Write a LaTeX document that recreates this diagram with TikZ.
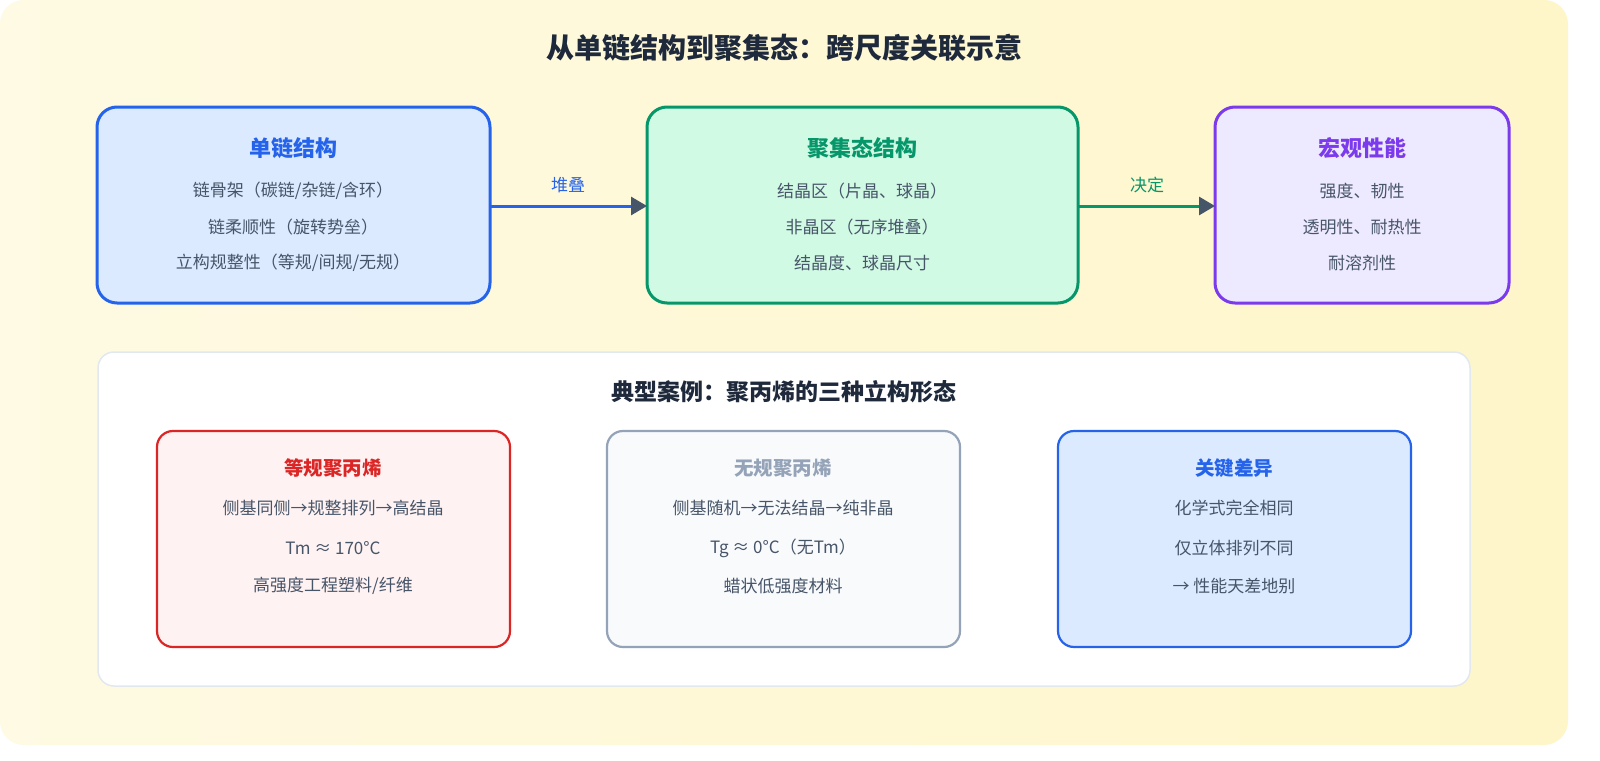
\documentclass[tikz,border=0pt]{standalone}
\usepackage{fontspec}
\setmainfont{Noto Sans CJK SC}
\usetikzlibrary{arrows.meta}
\definecolor{bgA}{HTML}{FEFAE3}
\definecolor{bgB}{HTML}{FEF6C8}
\definecolor{txt}{HTML}{475569}
\definecolor{ttl}{HTML}{1E293B}
\definecolor{blueB}{HTML}{2563EB}\definecolor{blueF}{HTML}{DBEAFE}
\definecolor{greenB}{HTML}{059669}\definecolor{greenF}{HTML}{D1FAE5}
\definecolor{purB}{HTML}{7C3AED}\definecolor{purF}{HTML}{EDE9FE}
\definecolor{redB}{HTML}{DC2626}\definecolor{redF}{HTML}{FEF2F2}
\definecolor{grayB}{HTML}{94A3B8}\definecolor{grayF}{HTML}{F8FAFC}
\definecolor{panB}{HTML}{E2E8F0}
\definecolor{arr}{HTML}{475569}
\tikzset{
 box/.style={draw, line width=3pt, rounded corners=20pt},
 sbox/.style={draw, line width=2.2pt, rounded corners=16pt},
 t/.style={font=\fontsize{17}{20}\selectfont, text=txt, anchor=center},
 h/.style={font=\fontsize{22}{26}\selectfont\bfseries, anchor=center},
 sh/.style={font=\fontsize{19.5}{23}\selectfont\bfseries, anchor=center},
 con/.style={line width=3pt, -{Triangle[length=16pt,width=18pt,color=arr]}},
}
\begin{document}
\begin{tikzpicture}[x=1pt,y=-1pt]
\useasboundingbox (0,0) rectangle (1600,760);
\fill[white] (0,0) rectangle (1600,760);
\begin{scope}
\clip[rounded corners=24pt] (0,0) rectangle (1568,745);
\foreach \i in {0,...,39}{
 \pgfmathsetmacro{\p}{100-\i*2.5}
 \fill[bgA!\p!bgB] ({\i*40},0) rectangle ({\i*40+41},745);
}
\end{scope}
\node[font=\fontsize{28}{32}\selectfont\bfseries,text=ttl] (title) at (784,48) {从单链结构到聚集态：跨尺度关联示意};
% top boxes
\draw[box,draw=blueB,fill=blueF] (97,107) rectangle (490,303);
\coordinate (b1) at (490,206);
\node[h,text=blueB] (h1) at (293,148) {单链结构};
\node[t] (l11) at (293,191) {链骨架（碳链/杂链/含环）};
\node[t] (l12) at (293,227) {链柔顺性（旋转势垒）};
\node[t] (l13) at (293,263) {立构规整性（等规/间规/无规）};
\draw[box,draw=greenB,fill=greenF] (647,107) rectangle (1078,303);
\coordinate (b2l) at (647,206);\coordinate (b2r) at (1078,206);
\node[h,text=greenB] (h2) at (862,148) {聚集态结构};
\node[t] (l21) at (862,191) {结晶区（片晶、球晶）};
\node[t] (l22) at (862,227) {非晶区（无序堆叠）};
\node[t] (l23) at (862,263) {结晶度、球晶尺寸};
\draw[box,draw=purB,fill=purF] (1215,107) rectangle (1509,303);
\coordinate (b3) at (1215,206);
\node[h,text=purB] (h3) at (1362,148) {宏观性能};
\node[t] (l31) at (1362,191) {强度、韧性};
\node[t] (l32) at (1362,227) {透明性、耐热性};
\node[t] (l33) at (1362,263) {耐溶剂性};
\draw[con,blueB] (b1) -- (b2l);
\node[t,text=blueB] (a1) at (568,185) {堆叠};
\draw[con,greenB] (b2r) -- (b3);
\node[t,text=greenB] (a2) at (1147,185) {决定};
% panel
\draw[panB,line width=1.5pt,fill=white,rounded corners=16pt] (98,352) rectangle (1470,686);
\node[font=\fontsize{23}{27}\selectfont\bfseries,text=ttl] (pt) at (784,392) {典型案例：聚丙烯的三种立构形态};
\draw[sbox,draw=redB,fill=redF] (157,431) rectangle (510,647);
\node[sh,text=redB] (r0) at (333,468) {等规聚丙烯};
\node[t] (r1) at (333,508) {侧基同侧→规整排列→高结晶};
\node[t] (r2) at (333,548) {Tm ≈ 170°C};
\node[t] (r3) at (333,586) {高强度工程塑料/纤维};
\draw[sbox,draw=grayB,fill=grayF] (607,431) rectangle (960,647);
\node[sh,text=grayB] (g0) at (783,468) {无规聚丙烯};
\node[t] (g1) at (783,508) {侧基随机→无法结晶→纯非晶};
\node[t] (g2) at (783,548) {Tg ≈ 0°C（无Tm）};
\node[t] (g3) at (783,586) {蜡状低强度材料};
\draw[sbox,draw=blueB,fill=blueF] (1058,431) rectangle (1411,647);
\node[sh,text=blueB] (k0) at (1234,468) {关键差异};
\node[t] (k1) at (1234,508) {化学式完全相同};
\node[t] (k2) at (1234,548) {仅立体排列不同};
\node[t] (k3) at (1234,586) {→ 性能天差地别};
\end{tikzpicture}
\end{document}
